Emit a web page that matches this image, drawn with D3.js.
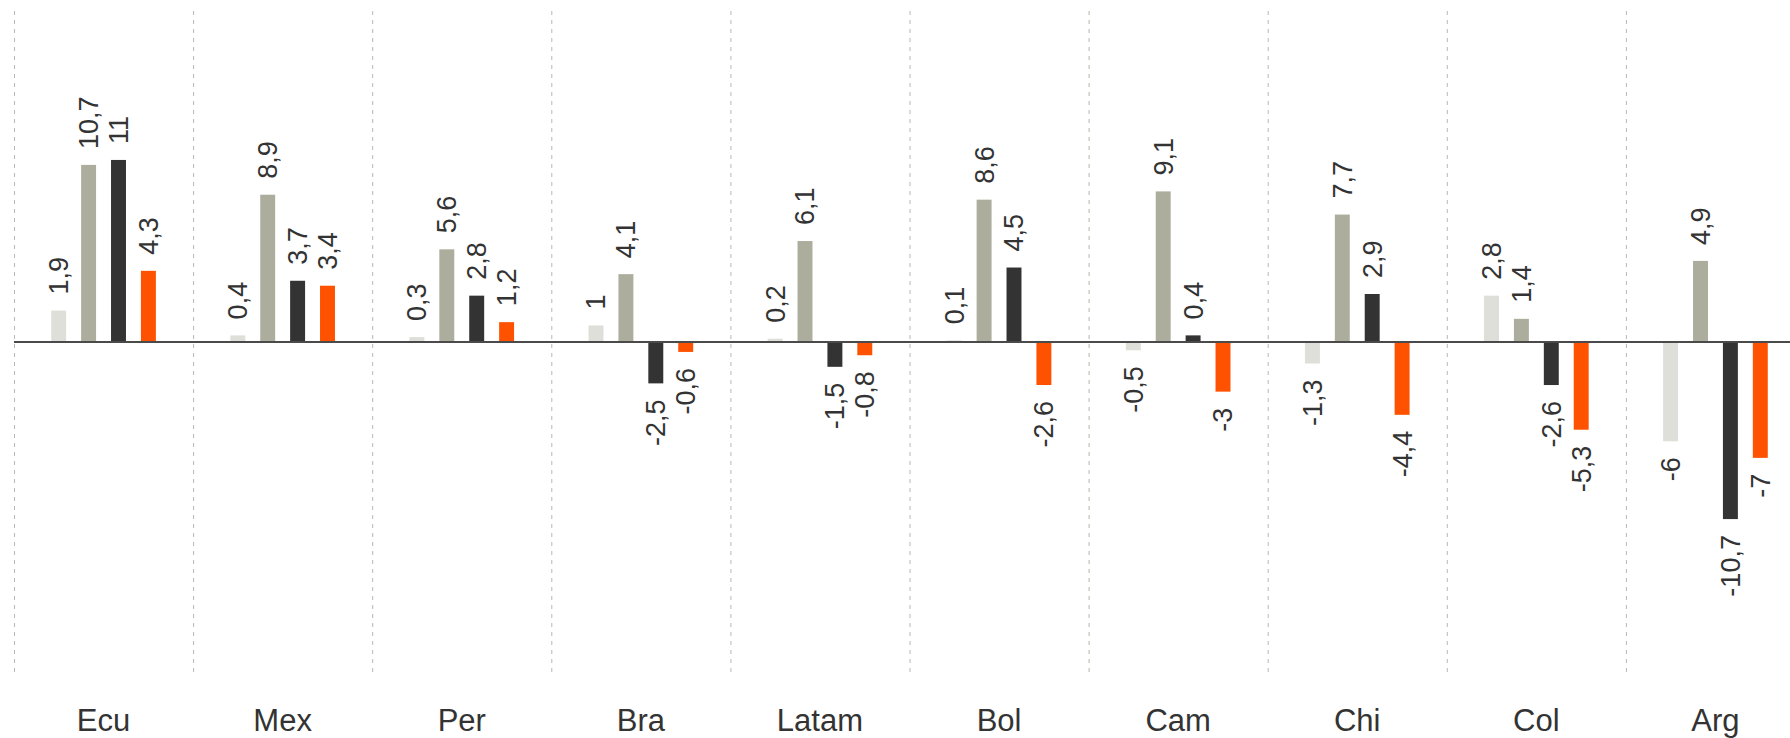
<!DOCTYPE html>
<html>
<head>
<meta charset="utf-8">
<script src="https://cdn.jsdelivr.net/npm/d3@7"></script>
<style>
  body { margin: 0; background: #fff; }
  text { font-family: "Liberation Sans", Arial, sans-serif; fill: #333; }
</style>
</head>
<body>
<div id="chart"></div>
<script>
// Data
var countries = ["Ecu", "Mex", "Per", "Bra", "Latam", "Bol", "Cam", "Chi", "Col", "Arg"];
var series = ["s1", "s2", "s3", "s4"];
var s1 = [1.9, 0.4, 0.3, 1, 0.2, 0.1, -0.5, -1.3, 2.8, -6];
var s2 = [10.7, 8.9, 5.6, 4.1, 6.1, 8.6, 9.1, 7.7, 1.4, 4.9];
var s3 = [11, 3.7, 2.8, -2.5, -1.5, 4.5, 0.4, 2.9, -2.6, -10.7];
var s4 = [4.3, 3.4, 1.2, -0.6, -0.8, -2.6, -3, -4.4, -5.3, -7];
var colors = ["#dfdfd9", "#adad9d", "#333333", "#ff5200"];

var width = 1790;
var height = 738;

// Build rows for drawing
var values = [s1, s2, s3, s4];
var rows = countries.map(function(c, i) {
  return { country: c, vals: values.map(function(v, j) { return { key: series[j], value: v[i] }; }) };
});

var svg = d3.select("#chart")
  .append("svg")
  .attr("width", width)
  .attr("height", height);

// Scales
var x0 = d3.scaleBand()
  .domain(countries)
  .range([14, 14 + 179.1 * countries.length])
  .padding(0);

var x1 = d3.scaleBand()
  .domain(series)
  .range([0, x0.bandwidth()])
  .paddingInner(0.5)
  .paddingOuter(1.245);

var y = d3.scaleLinear()
  .domain([-20, 20])
  .range([673, 11]);

var fmt = function(v) { return String(v).replace(".", ","); };

// Dashed separators
svg.append("g")
  .selectAll("line")
  .data(countries)
  .enter()
  .append("line")
  .attr("x1", function(d) { return x0(d) + 0.5; })
  .attr("x2", function(d) { return x0(d) + 0.5; })
  .attr("y1", y(20))
  .attr("y2", y(-20))
  .attr("stroke", "#b8b8ac")
  .attr("stroke-width", 1)
  .attr("stroke-dasharray", "4,5");

// Bars
var groups = svg.selectAll(".grp")
  .data(rows)
  .enter()
  .append("g")
  .attr("class", "grp")
  .attr("transform", function(d) { return "translate(" + x0(d.country) + ",0)"; });

groups.selectAll("rect")
  .data(function(d) { return d.vals; })
  .enter()
  .append("rect")
  .attr("x", function(d) { return x1(d.key); })
  .attr("width", x1.bandwidth())
  .attr("y", function(d) { return y(Math.max(0, d.value)); })
  .attr("height", function(d) { return Math.abs(y(d.value) - y(0)); })
  .attr("fill", function(d, i) { return colors[i]; });

// Value labels
groups.selectAll("text")
  .data(function(d) { return d.vals; })
  .enter()
  .append("text")
  .attr("transform", function(d) {
    var cx = x1(d.key) + x1.bandwidth() / 2;
    var cy = d.value >= 0 ? y(d.value) - 16 : y(d.value) + 16;
    return "translate(" + cx + "," + cy + ") rotate(-90)";
  })
  .attr("text-anchor", function(d) { return d.value >= 0 ? "start" : "end"; })
  .attr("dy", "0.35em")
  .style("font-size", "27px")
  .text(function(d) { return fmt(d.value); });

// Zero line
svg.append("line")
  .attr("x1", 14)
  .attr("x2", width)
  .attr("y1", y(0))
  .attr("y2", y(0))
  .attr("stroke", "#4a4a4a")
  .attr("stroke-width", 2);

// Category labels
svg.append("g")
  .selectAll("text")
  .data(countries)
  .enter()
  .append("text")
  .attr("x", function(d) { return x0(d) + x0.bandwidth() / 2; })
  .attr("y", 731)
  .attr("text-anchor", "middle")
  .style("font-size", "31px")
  .text(function(d) { return d; });
</script>
</body>
</html>
